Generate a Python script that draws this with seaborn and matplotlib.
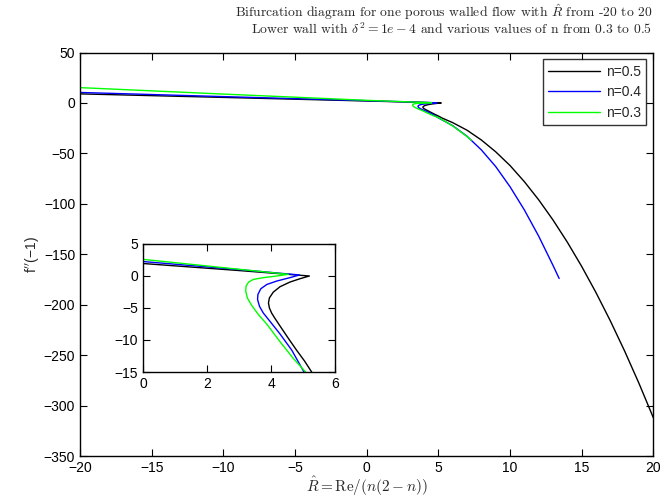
import numpy as np
import pandas as pd
import matplotlib
matplotlib.use("Agg")
import matplotlib.pyplot as plt
import seaborn as sns

# ---- data ----
series_labels = ["n=0.5", "n=0.4", "n=0.3"]
series_colors = ["#000000", "#0000ff", "#00ff00"]

black_x = [-20, -10, 0, 3, 5.2, 4.91, 4.59, 4.28, 4.07, 3.95, 3.92, 3.95, 4.02, 4.12, 4.28,
           4.55, 4.8, 5.05, 5.27, 6, 7, 8, 9, 10, 11, 12, 13, 14, 15, 16, 17, 18, 19, 20]
black_y = [9.0, 5.5, 1.95, 0.85, 0.0, -0.42, -0.95, -1.68, -2.53, -3.42, -4.21, -5.0, -5.8,
           -6.6, -7.8, -9.8, -11.6, -13.3, -15, -19.5, -27, -36.7, -48.4, -62, -78, -96,
           -116, -138, -162, -188, -216, -246, -278, -312]

blue_x = [-20, -10, 0, 3, 4.89, 4.59, 4.18, 3.87, 3.68, 3.59, 3.58, 3.64, 3.76, 3.97, 4.28,
          4.65, 5.03, 6, 7, 8, 9, 10, 11, 12, 13, 13.43]
blue_y = [10.4, 6.3, 2.26, 1.0, 0.16, -0.26, -0.79, -1.32, -2.0, -2.9, -3.68, -4.74, -5.79,
          -7.1, -9.05, -11.6, -15, -22.5, -33, -46.5, -63, -83, -106, -132, -161, -174]

green_x = [-20, -10, 0, 3, 4.54, 4.18, 3.76, 3.45, 3.3, 3.22, 3.21, 3.26, 3.4, 3.61, 3.87,
           4.28, 4.7, 5.08, 6, 7, 7.3]
green_y = [15.2, 8.8, 2.6, 1.05, 0.26, 0.0, -0.26, -0.53, -0.95, -1.58, -2.37, -3.42, -4.63,
           -6.05, -7.53, -10.26, -12.9, -15, -22.8, -33.3, -37]

main_xticks = [-20, -15, -10, -5, 0, 5, 10, 15, 20]
main_yticks = [-350, -300, -250, -200, -150, -100, -50, 0, 50]
inset_xticks = [0, 2, 4, 6]
inset_yticks = [-15, -10, -5, 0, 5]

title_lines = [r"Bifurcation diagram for one porous walled flow with $\hat{R}$ from -20 to 20",
               r"Lower wall with $\delta^2 = 1e-4$ and various values of n from 0.3 to 0.5"]
xlabel_text = r"$\hat{R} = \mathrm{Re}/(n(2-n))$"
ylabel_text = "f$^{\\prime\\prime}$(\u22121)"

frames = []
for lab, xs, ys in zip(series_labels, [black_x, blue_x, green_x], [black_y, blue_y, green_y]):
    frames.append(pd.DataFrame({"series": lab, "order": np.arange(len(xs)), "x": xs, "y": ys}))
df = pd.concat(frames, ignore_index=True)

# ---- style ----
sns.set_style("ticks")
plt.rcParams.update({
    "font.family": ["Liberation Sans", "DejaVu Sans"],
    "mathtext.fontset": "cm",
    "font.size": 10,
    "xtick.direction": "in",
    "ytick.direction": "in",
    "xtick.top": True,
    "ytick.right": True,
    "xtick.major.size": 5,
    "ytick.major.size": 5,
    "xtick.major.width": 0.8,
    "ytick.major.width": 0.8,
    "axes.linewidth": 1.0,
    "axes.edgecolor": "black",
    "xtick.color": "black",
    "ytick.color": "black",
    "xtick.labelsize": 10,
    "ytick.labelsize": 10,
})

fig = plt.figure(figsize=(6.63, 5.04), dpi=100)
ax = fig.add_axes([0.1207, 0.0952, 0.8647, 0.8006])

for lab, col in zip(series_labels, series_colors):
    sub = df[df["series"] == lab]
    sns.lineplot(data=sub, x="x", y="y", sort=False, estimator=None, color=col,
                 lw=1.0, ax=ax, label=lab)

ax.set_xlim(-20, 20)
ax.set_ylim(-350, 50)
ax.set_xticks(main_xticks)
ax.set_yticks(main_yticks)
ax.set_xlabel(xlabel_text, fontsize=11, labelpad=0)
ax.set_ylabel(ylabel_text, fontsize=10, labelpad=2)
for s in ax.spines.values():
    s.set_visible(True)

leg = ax.legend(loc="upper right", frameon=True, fancybox=False, edgecolor="black",
                handlelength=3.7, borderaxespad=0.5, labelspacing=0.45,
                handletextpad=0.45, fontsize=10, borderpad=0.4)
leg.get_frame().set_linewidth(1.0)

# ---- inset ----
ax2 = fig.add_axes([0.2157, 0.2619, 0.2896, 0.254])
for lab, col in zip(series_labels, series_colors):
    sub = df[df["series"] == lab]
    sns.lineplot(data=sub, x="x", y="y", sort=False, estimator=None, color=col,
                 lw=1.0, ax=ax2, legend=False)
ax2.set_xlim(0, 6)
ax2.set_ylim(-15, 5)
ax2.set_xticks(inset_xticks)
ax2.set_yticks(inset_yticks)
ax2.set_xlabel("")
ax2.set_ylabel("")
for s in ax2.spines.values():
    s.set_visible(True)

# ---- title ----
fig.text(0.984, 0.976, title_lines[0], ha="right", va="center", family="cmr10", fontsize=9.8)
fig.text(0.984, 0.941, title_lines[1], ha="right", va="center", family="cmr10", fontsize=9.8)

fig.savefig("out.png", dpi=100)
